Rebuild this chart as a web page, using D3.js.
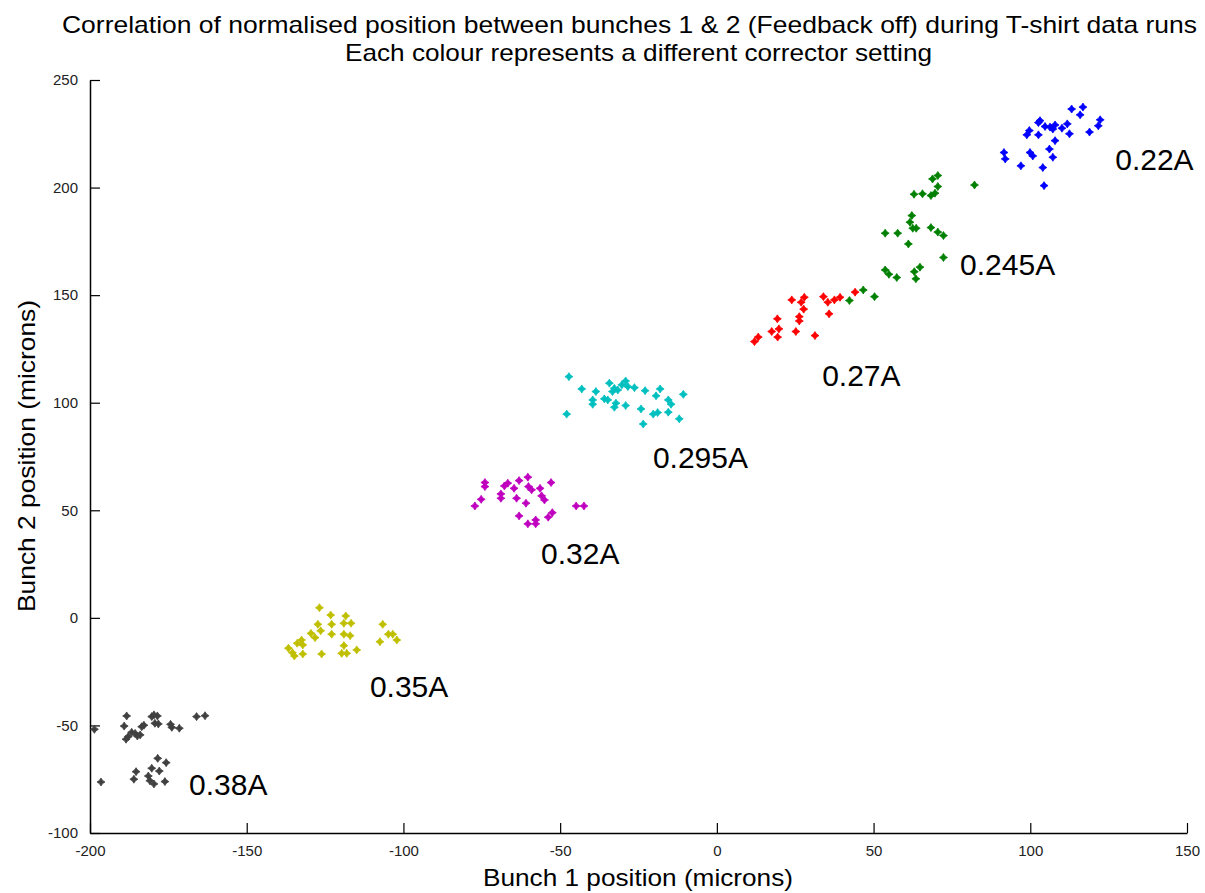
<!DOCTYPE html>
<html>
<head>
<meta charset="utf-8">
<script src="https://cdn.jsdelivr.net/npm/d3@7"></script>
<style>
html,body{margin:0;padding:0;background:#fff;}
svg{display:block;font-family:"Liberation Sans",Arial,sans-serif;}
</style>
</head>
<body>
<svg id="chart" width="1205" height="893"></svg>
<script>
const titleLines = ["Correlation of normalised position between bunches 1 & 2 (Feedback off) during T-shirt data runs",
                    "Each colour represents a different corrector setting"];
const xLabel = "Bunch 1 position (microns)";
const yLabel = "Bunch 2 position (microns)";
const xTicks = [-200,-150,-100,-50,0,50,100,150];
const yTicks = [-100,-50,0,50,100,150,200,250];

const settings = ["0.38A","0.35A","0.32A","0.295A","0.27A","0.245A","0.22A"];
const colours  = ["#404040","#bfbf00","#bf00bf","#00bfbf","#ff0000","#008000","#0000ff"];
// label anchor positions (data units)
const labelX = [-168.4,-110.7,-56.1,-20.4,33.6,77.6,127.1];
const labelY = [-82.3,-36.8,25.1,69.7,107.8,159.4,208.2];

const set038 = [[-198.6,-51.8],[-188.3,-45.6],[-189.1,-50.3],[-188.5,-56.4],[-187.8,-55.2],[-186.7,-53.2],[-185.6,-53.7],[-184.9,-54.9],[-184,-54.4],[-183.5,-50.6],[-182.8,-49.9],[-180.3,-45.9],[-179.6,-45.1],[-178.5,-45.6],[-179.3,-49],[-178.2,-49.3],[-174.3,-49.5],[-173.9,-50.9],[-171.5,-51.3],[-166,-45.9],[-163.3,-45.5],[-178.4,-65.3],[-175.7,-67.3],[-180.3,-69.9],[-177.9,-71.2],[-185.3,-71.5],[-186,-75],[-181.4,-73.5],[-180.9,-75.7],[-179.6,-77.2],[-176.1,-76.1],[-196.5,-76.3]];
const set035 = [[-126.8,4.7],[-123.2,1.3],[-118.4,0.9],[-127.3,-3],[-122.9,-3],[-119,-2.5],[-116.7,-2.5],[-126.4,-6],[-129.5,-7.2],[-128.2,-9.2],[-122.9,-7.6],[-119,-7.6],[-117,-8.3],[-132.5,-10.3],[-133.9,-11.8],[-132.1,-12.6],[-136.7,-14.1],[-135.4,-16.2],[-134.8,-17.7],[-132.1,-16.8],[-126.1,-16.8],[-119,-12.9],[-119.7,-16.5],[-118.1,-16.5],[-114.9,-14.9],[-106.6,-3],[-104.8,-7.6],[-103.4,-7.6],[-107.5,-11.1],[-102.1,-10.3]];
const set032 = [[-74,62.9],[-74,61],[-67.8,61.3],[-66.7,62.6],[-63.1,63.8],[-60.3,65.4],[-60.1,61],[-59.1,59.5],[-64.7,60.2],[-56.4,60.2],[-52.9,62.9],[-68.9,57.6],[-68.9,55.6],[-75.2,55.1],[-77.2,52],[-63.9,55.6],[-55.9,56.7],[-55,54.8],[-60.9,53.3],[-63.1,47.4],[-57.8,45.5],[-57.8,43.7],[-60.3,43.7],[-53.8,46.8],[-52.5,48.9],[-44.9,52],[-42.4,52]];
const set0295 = [[-47.2,112.1],[-43.1,106.4],[-38.6,105.2],[-39.6,101.3],[-39.6,99.3],[-35.9,101.8],[-34.8,101.3],[-34.3,109.1],[-33.3,105.2],[-32.7,106.7],[-31.6,105.9],[-30.3,108.3],[-29.1,110.1],[-28.4,107.5],[-26.3,107],[-32.2,99.8],[-32.7,97.9],[-29.1,98.7],[-22.9,105.6],[-18.1,106.4],[-19.4,103.2],[-15.5,101.3],[-14.6,99.3],[-15.5,95.6],[-24.2,97.1],[-20.3,94.7],[-18.9,95.4],[-23.5,90.1],[-12,92.5],[-10.7,103.9],[-47.9,94.7]];
const set027 = [[12,128.4],[13.2,130.5],[17.5,133.1],[19.4,130.5],[19.8,134.3],[19.3,139],[25.2,133.1],[26.3,140],[26.3,138],[27.7,143.5],[26.9,146.7],[27.9,149],[23.9,147.8],[31.3,131.2],[34,149.3],[35.4,146.7],[37.5,147.8],[35.8,141.3],[39.3,149],[44.1,151.4]];
const set0245 = [[46.7,152.4],[42.3,147.5],[50.3,149.3],[68.8,204],[70.5,205.6],[70.5,200.5],[69.6,197.4],[68.3,196.3],[65.6,197.1],[62.9,196.9],[62.2,187],[61.6,183.9],[62.5,181.1],[63.6,181.1],[68.3,181.4],[70.5,179.3],[72.3,177.7],[53.7,178.8],[57.7,178.8],[61.1,173.8],[72.3,167.5],[53.7,161.7],[54.9,159.7],[57.4,158.2],[63,160.9],[64.8,163],[63.5,157.6],[82.2,201.2]];
const set022 = [[113.2,236.5],[116.8,237.4],[115.9,233.8],[122.3,231.5],[121.7,228.7],[118.9,225.8],[111.8,229.6],[112.5,225],[110.1,227.6],[107.9,229.1],[107.2,227.2],[106.3,228.1],[104.7,228.4],[103.1,231.1],[102.6,230.2],[99.7,226.5],[98.9,224.5],[102.6,224.5],[107.9,221.8],[106.1,217.9],[107.2,214.1],[99.9,216.3],[100.8,214.7],[91.6,216.3],[92,213.3],[97,210.1],[104,209.3],[104.4,200.9]];
const seriesData = [set038,set035,set032,set0295,set027,set0245,set022];

const svg = d3.select("#chart");
const x = d3.scaleLinear().domain([-200,150]).range([90,1187]);
const y = d3.scaleLinear().domain([-100,250]).range([833,80]);

// title
const titleWidths = [1135, 587];
svg.append("g").selectAll("text").data(titleLines).join("text")
  .attr("x",(d,i)=> i===0 ? 629.5 : 638.5).attr("y",(d,i)=>33+i*28)
  .attr("text-anchor","middle").attr("font-size",24).attr("fill","#000")
  .attr("textLength",(d,i)=>titleWidths[i]).attr("lengthAdjust","spacingAndGlyphs")
  .text(d=>d);

// axes
const fmt = d => String(d);
const xAxis = svg.append("g").attr("transform","translate(0,833)")
  .call(d3.axisBottom(x).tickValues(xTicks).tickFormat(fmt).tickSizeInner(-10).tickSizeOuter(0).tickPadding(12));
const yAxis = svg.append("g").attr("transform","translate(90,0)")
  .call(d3.axisLeft(y).tickValues(yTicks).tickFormat(fmt).tickSizeInner(-10).tickSizeOuter(0).tickPadding(12));
[xAxis,yAxis].forEach(a=>{
  a.select(".domain").attr("stroke","#000").attr("stroke-width",1.5);
  a.selectAll(".tick line").attr("stroke","#000").attr("stroke-width",1.2);
  a.selectAll(".tick text").attr("font-size",15).attr("fill","#222")
   .attr("font-family","'Liberation Sans',Arial,sans-serif");
});

svg.append("text").attr("x",638).attr("y",886).attr("text-anchor","middle")
  .attr("font-size",24).attr("textLength",310).attr("lengthAdjust","spacingAndGlyphs").text(xLabel);
svg.append("text").attr("transform","translate(35,456) rotate(-90)").attr("text-anchor","middle")
  .attr("font-size",24).attr("textLength",312).attr("lengthAdjust","spacingAndGlyphs").text(yLabel);

// markers: small 4-point star
const R=4, r=1.6;
const star = `M0,${-R}L${r},${-r}L${R},0L${r},${r}L0,${R}L${-r},${r}L${-R},0L${-r},${-r}Z`;

seriesData.forEach((pts,i)=>{
  svg.append("g").selectAll("path").data(pts).join("path")
    .attr("d",star)
    .attr("transform",d=>`translate(${x(d[0])},${y(d[1])})`)
    .attr("fill",colours[i]).attr("stroke",colours[i]).attr("stroke-width",0.8);
});

svg.append("g").selectAll("text").data(settings).join("text")
  .attr("x",(d,i)=>x(labelX[i])).attr("y",(d,i)=>y(labelY[i]))
  .attr("font-size",30).attr("fill","#000").text(d=>d);
</script>
</body>
</html>
